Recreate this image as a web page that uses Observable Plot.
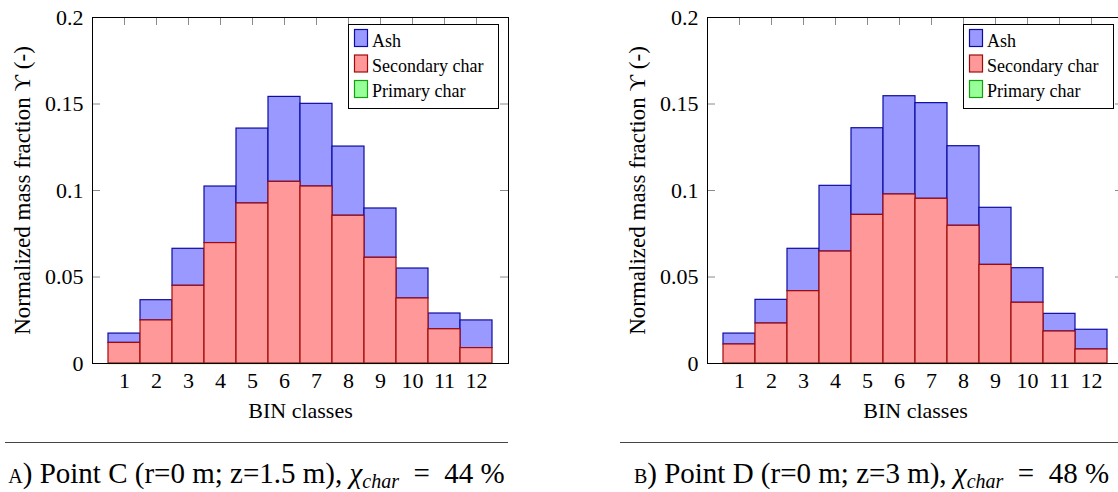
<!DOCTYPE html>
<html>
<head>
<meta charset="utf-8">
<script src="https://cdn.jsdelivr.net/npm/d3@7"></script>
<script src="https://cdn.jsdelivr.net/npm/@observablehq/plot@0.6"></script>
<style>
  html, body { margin: 0; padding: 0; background: #fff; }
  body { width: 1118px; height: 492px; overflow: hidden; position: relative; font-family: "Liberation Serif", serif; }
  .panel { position: absolute; top: 0; width: 560px; height: 430px; }
  .panel svg { max-width: none !important; }
  #overlay { position: absolute; left: 0; top: 0; pointer-events: none; }
</style>
</head>
<body>
<div id="left" class="panel" style="left:0px"></div>
<div id="right" class="panel" style="left:615px"></div>
<svg id="overlay" width="1118" height="492"></svg>
<script>
// BIN classes on the x axis
const bins = [1, 2, 3, 4, 5, 6, 7, 8, 9, 10, 11, 12];

// Point C (r=0 m; z=1.5 m): normalized mass fraction per class
const primaryC   = [0, 0, 0, 0, 0, 0, 0, 0, 0, 0, 0, 0];
const secondaryC = [0.0119, 0.0249, 0.0449, 0.0696, 0.0925, 0.1050, 0.1023, 0.0854, 0.0611, 0.0376, 0.0198, 0.0089];
const ashC       = [0.0054, 0.0117, 0.0214, 0.0327, 0.0433, 0.0491, 0.0478, 0.0400, 0.0285, 0.0173, 0.0091, 0.0160];

// Point D (r=0 m; z=3 m)
const primaryD   = [0, 0, 0, 0, 0, 0, 0, 0, 0, 0, 0, 0];
const secondaryD = [0.0110, 0.0231, 0.0418, 0.0647, 0.0859, 0.0977, 0.0952, 0.0796, 0.0570, 0.0351, 0.0185, 0.0081];
const ashD       = [0.0063, 0.0137, 0.0245, 0.0380, 0.0501, 0.0568, 0.0553, 0.0460, 0.0330, 0.0200, 0.0102, 0.0114];

const seriesNames = ["Ash", "Secondary char", "Primary char"];
const stackOrder = ["Primary char", "Secondary char", "Ash"];
const fillColor = { "Ash": "#9999ff", "Secondary char": "#ff9999", "Primary char": "#99ff99" };
const strokeColor = { "Ash": "#0c0ca0", "Secondary char": "#a00a0a", "Primary char": "#10a010" };

const yTicks = [0, 0.05, 0.1, 0.15, 0.2];
const yLabel = "Normalized mass fraction ϒ (-)";
const xLabel = "BIN classes";

const captions = [
  { tag: "a", text: ") Point C (r=0 m; z=1.5 m), ", value: "44" },
  { tag: "b", text: ") Point D (r=0 m; z=3 m), ", value: "48" }
];

const W = 560, H = 430, ML = 92, MR = 52, MT = 17, MB = 67;
const frameW = W - ML - MR, frameH = H - MT - MB;

function chart(primary, secondary, ash) {
  const rows = [];
  // ash rows first so the red outline of the secondary char sits on top of the shared edge
  bins.forEach((b, i) => rows.push({ bin: b, series: "Ash", value: ash[i] }));
  bins.forEach((b, i) => rows.push({ bin: b, series: "Secondary char", value: secondary[i] }));
  bins.forEach((b, i) => rows.push({ bin: b, series: "Primary char", value: primary[i] }));
  const primaryRows = rows.filter(d => d.series === "Primary char");

  return Plot.plot({
    width: W, height: H,
    marginLeft: ML, marginRight: MR, marginTop: MT, marginBottom: MB,
    style: { fontFamily: "Liberation Serif, serif", fontSize: "22px", color: "#000", background: "transparent", overflow: "visible" },
    x: { type: "band", domain: bins, paddingInner: 0, paddingOuter: 0.5, align: 0.5 },
    y: { domain: [0, 0.2] },
    color: { type: "identity" },
    marks: [
      // inward ticks on the top edge and on both vertical edges
      Plot.tickX(bins, { x: d => d, insetBottom: frameH - 8, stroke: "#8a8a8a" }),
      Plot.tickY(yTicks, { y: d => d, insetRight: frameW - 8, stroke: "#8a8a8a" }),
      Plot.tickY(yTicks, { y: d => d, insetLeft: frameW - 8, stroke: "#8a8a8a" }),
      Plot.barY(rows, {
        x: "bin", y: "value", z: "series", order: stackOrder,
        fill: d => fillColor[d.series],
        stroke: d => strokeColor[d.series],
        strokeWidth: 1.2
      }),
      Plot.tickY(primaryRows, { x: "bin", y: "value", stroke: strokeColor["Primary char"], strokeWidth: 1.2 }),
      Plot.frame({ stroke: "#000", strokeWidth: 1 }),
      Plot.axisY({ ticks: yTicks, tickSize: 0, tickPadding: 9, tickFormat: d => String(d), label: null }),
      Plot.axisX({ tickSize: 0, tickPadding: 9, label: null }),
      Plot.text([xLabel], { frameAnchor: "bottom", dy: 54, lineAnchor: "bottom", textAnchor: "middle", text: d => d }),
      Plot.text([yLabel], { frameAnchor: "left", dx: -70, rotate: -90, textAnchor: "middle", fontSize: 23, text: d => d })
    ]
  });
}

document.getElementById("left").append(chart(primaryC, secondaryC, ashC));
document.getElementById("right").append(chart(primaryD, secondaryD, ashD));

// legends and sub-figure captions
const overlay = d3.select("#overlay");
const panelX = [0, 615];

panelX.forEach((px, k) => {
  const frameLeft = px + ML, frameRight = px + ML + frameW;

  // legend box in the upper right corner of the frame
  const lw = 151, lh = 85;
  const lx = frameRight - 9 - lw, ly = MT + 7;
  const g = overlay.append("g").attr("transform", `translate(${lx},${ly})`);
  g.append("rect").attr("x", 0.5).attr("y", 0.5).attr("width", lw - 1).attr("height", lh - 1)
    .attr("fill", "#fff").attr("stroke", "#000").attr("stroke-width", 1);
  seriesNames.forEach((s, i) => {
    g.append("rect").attr("x", 6.5).attr("y", 5.5 + i * 25.5).attr("width", 13).attr("height", 17)
      .attr("fill", fillColor[s]).attr("stroke", strokeColor[s]).attr("stroke-width", 1.2);
    g.append("text").attr("x", 24).attr("y", 22.5 + i * 25.3)
      .attr("font-family", "Liberation Serif, serif").attr("font-size", 18).attr("fill", "#000")
      .text(s);
  });

  // rule above the caption
  const ruleLeft = frameLeft - 87;
  overlay.append("line").attr("x1", ruleLeft).attr("x2", frameRight).attr("y1", 442.5).attr("y2", 442.5)
    .attr("stroke", "#444").attr("stroke-width", 1.2);

  // caption
  const c = captions[k];
  const t = overlay.append("text").attr("x", (ruleLeft + frameRight) / 2).attr("y", 483)
    .attr("text-anchor", "middle").attr("font-family", "Liberation Serif, serif")
    .attr("font-size", 29).attr("fill", "#000");
  t.append("tspan").style("font-variant", "small-caps").text(c.tag);
  t.append("tspan").text(c.text);
  t.append("tspan").attr("font-style", "italic").text("χ");
  t.append("tspan").attr("font-style", "italic").attr("font-size", 20).attr("dy", 5).text("char");
  t.append("tspan").attr("dy", -5).text("\u2002=\u2002" + c.value + " %");
});
</script>
</body>
</html>
